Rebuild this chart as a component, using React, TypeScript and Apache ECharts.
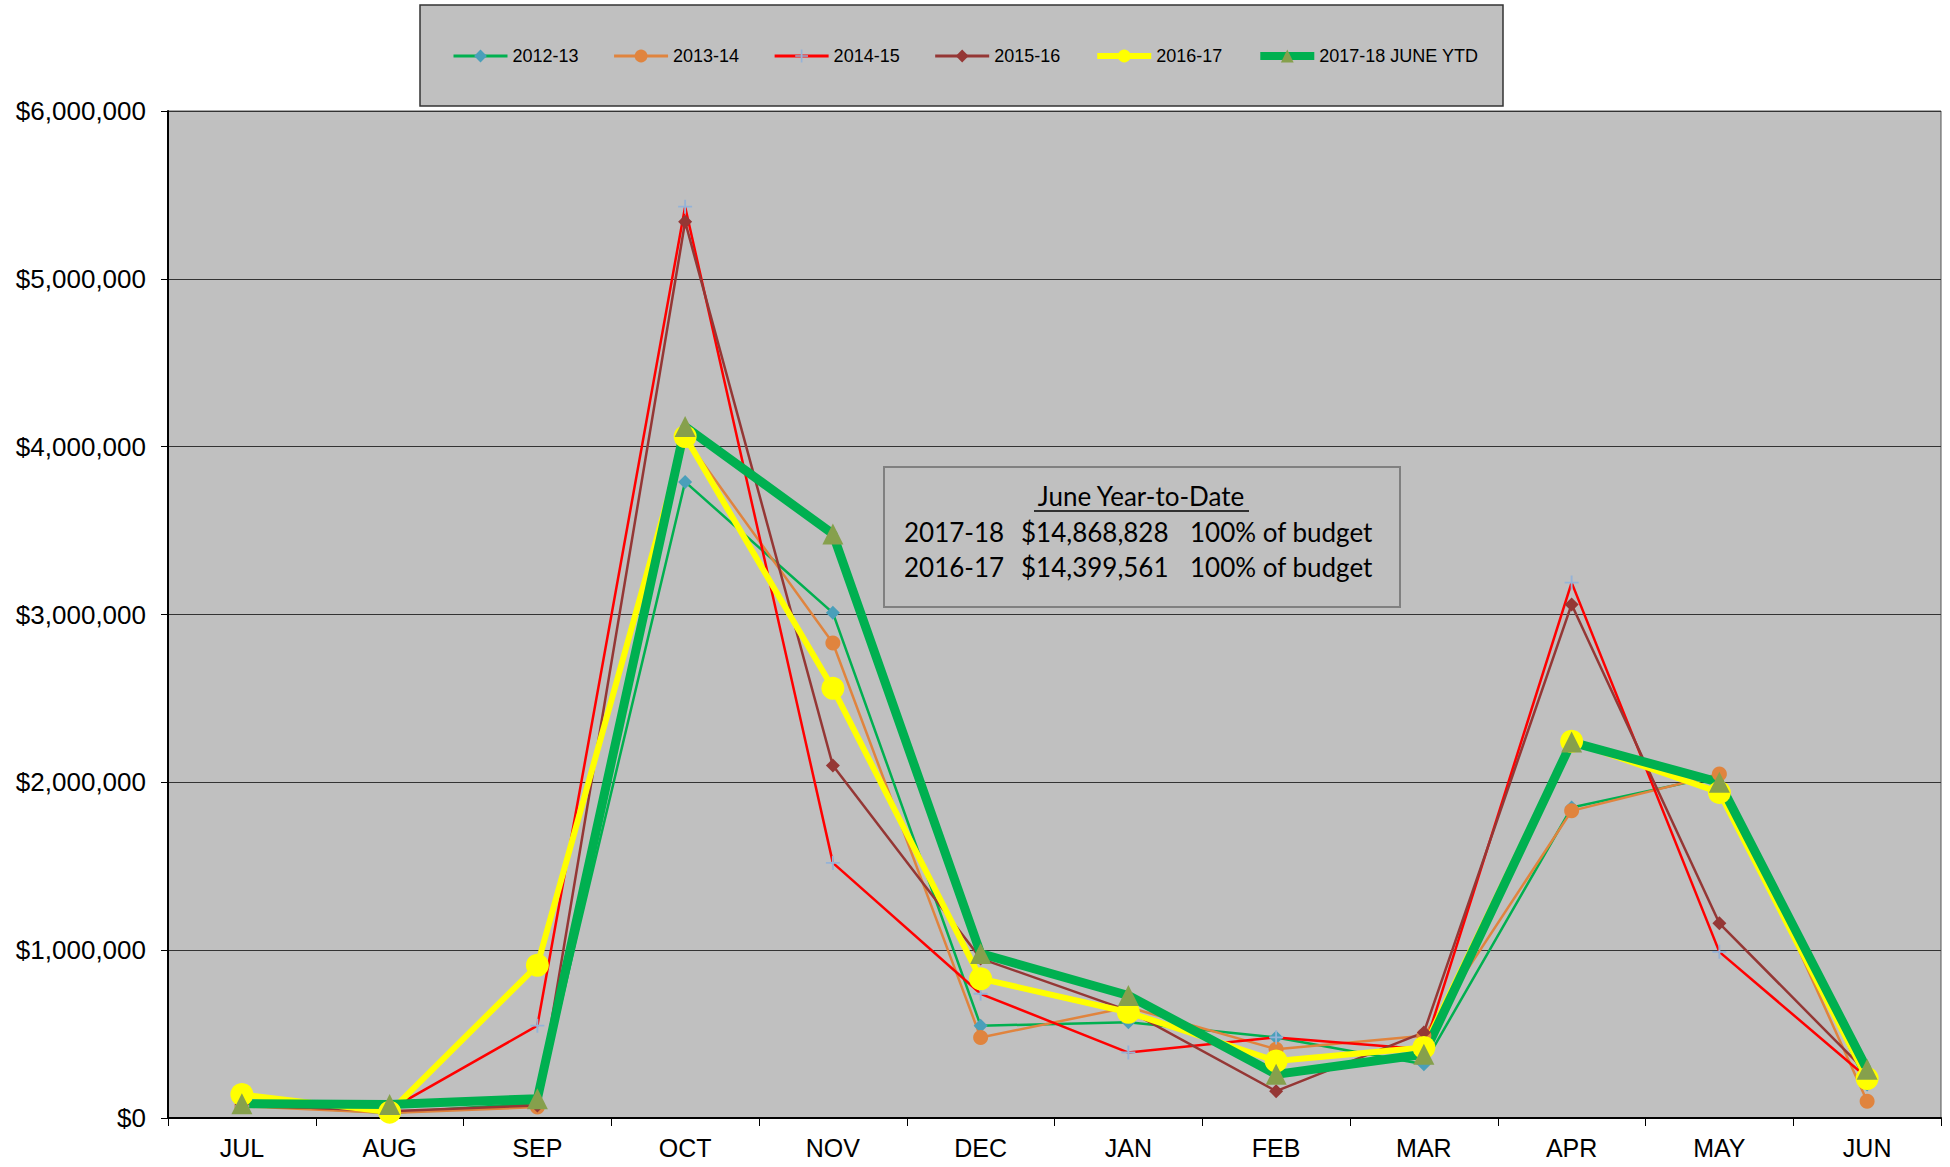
import React, { useEffect, useRef } from "react";
import * as echarts from "echarts";

const months = ["JUL", "AUG", "SEP", "OCT", "NOV", "DEC", "JAN", "FEB", "MAR", "APR", "MAY", "JUN"];

const fy2012_13 = [80000, 30000, 90000, 3790000, 3010000, 550000, 570000, 480000, 320000, 1850000, 2040000, 200000];
const fy2013_14 = [70000, 30000, 65000, 4050000, 2830000, 480000, 660000, 410000, 490000, 1830000, 2050000, 100000];
const fy2014_15 = [70000, 50000, 550000, 5430000, 1520000, 740000, 390000, 480000, 410000, 3190000, 990000, 240000];
const fy2015_16 = [80000, 40000, 75000, 5340000, 2100000, 950000, 640000, 160000, 510000, 3060000, 1160000, 270000];
const fy2016_17 = [140000, 35000, 910000, 4060000, 2560000, 830000, 630000, 340000, 420000, 2245000, 1940000, 235000];
const fy2017_18 = [85000, 80000, 115000, 4120000, 3480000, 980000, 730000, 260000, 380000, 2240000, 2000000, 290000];

const seriesNames = ["2012-13", "2013-14", "2014-15", "2015-16", "2016-17", "2017-18 JUNE YTD"];

const boxTitle = "June Year-to-Date";
const boxRows = [
  ["2017-18", "$14,868,828", "100% of budget"],
  ["2016-17", "$14,399,561", "100% of budget"],
];

const PLUS = "path://M5.2,0 H6.8 V5.2 H12 V6.8 H6.8 V12 H5.2 V6.8 H0 V5.2 H5.2 Z";

function fmtMoney(v: number) {
  return "$" + v.toLocaleString("en-US");
}

export default function App() {
  const ref = useRef<HTMLDivElement>(null);
  useEffect(() => {
    if (!ref.current) return;
    const chart = echarts.init(ref.current, undefined, { renderer: "svg" });
    const font = "'Liberation Sans', Arial, sans-serif";
    const styles = [
      { line: "#00b050", width: 2.5, symbol: "diamond", size: 14, sym: "#4a9fba" },
      { line: "#e0843e", width: 2.5, symbol: "circle", size: 15, sym: "#e0843e" },
      { line: "#ff0000", width: 2.5, symbol: PLUS, size: 14, sym: "#95b3d7" },
      { line: "#953735", width: 2.5, symbol: "diamond", size: 14, sym: "#953735" },
      { line: "#ffff00", width: 6, symbol: "circle", size: 23, sym: "#ffff00" },
      { line: "#00b050", width: 9, symbol: "triangle", size: 21, sym: "#86a04c" },
    ];
    const allData = [fy2012_13, fy2013_14, fy2014_15, fy2015_16, fy2016_17, fy2017_18];
    const legendWidths = [3, 3, 3, 3, 6, 8];
    const option: any = {
      animation: false,
      backgroundColor: "#ffffff",
      textStyle: { fontFamily: font },
      grid: {
        left: 168,
        right: 9,
        top: 111,
        bottom: 49,
        show: true,
        backgroundColor: "#c0c0c0",
        borderColor: "#555555",
        borderWidth: 1,
      },
      legend: {
        left: 447,
        top: 42,
        itemWidth: 54,
        itemHeight: 16,
        itemGap: 34,
        textStyle: { fontSize: 18, color: "#000", fontFamily: font },
        data: seriesNames.map((n, i) => ({
          name: n,
          lineStyle: { width: legendWidths[i], color: styles[i].line },
        })),
        z: 10,
      },
      xAxis: {
        type: "category",
        data: months,
        boundaryGap: true,
        axisLine: { lineStyle: { color: "#000", width: 2 } },
        axisTick: { show: true, length: 8, lineStyle: { color: "#000" }, alignWithLabel: false },
        axisLabel: { fontSize: 25, color: "#000", margin: 17, fontFamily: font },
      },
      yAxis: {
        type: "value",
        min: 0,
        max: 6000000,
        interval: 1000000,
        axisLine: { show: true, lineStyle: { color: "#000", width: 2 } },
        axisTick: { show: true, length: 7, lineStyle: { color: "#000" } },
        axisLabel: {
          fontSize: 26,
          color: "#000",
          margin: 22,
          fontFamily: font,
          formatter: (v: number) => fmtMoney(v),
        },
        splitLine: { show: true, lineStyle: { color: "#333333", width: 1 } },
      },
      series: seriesNames.map((name, i) => ({
        name,
        type: "line",
        data: allData[i],
        symbol: styles[i].symbol,
        symbolSize: styles[i].size,
        showAllSymbol: true,
        lineStyle: { color: styles[i].line, width: styles[i].width },
        itemStyle: { color: styles[i].sym, borderWidth: 0 },
        emphasis: { disabled: true },
        z: 3,
      })),
      graphic: [
        {
          type: "rect",
          z: 0,
          silent: true,
          shape: { x: 420, y: 5, width: 1083, height: 101 },
          style: { fill: "#c0c0c0", stroke: "#333333", lineWidth: 1.5 },
        },
        {
          type: "group",
          z: 100,
          children: [
            {
              type: "rect",
              shape: { x: 884, y: 467, width: 516, height: 140 },
              style: { fill: "#c0c0c0", stroke: "#808080", lineWidth: 2 },
            },
            {
              type: "text",
              x: 1141,
              y: 496,
              style: {
                text: boxTitle,
                fill: "#000",
                font: "26px Lato, 'Open Sans', sans-serif",
                textAlign: "center",
                textVerticalAlign: "middle",
              },
            },
            {
              type: "line",
              shape: { x1: 1034, y1: 511, x2: 1249, y2: 511 },
              style: { stroke: "#000", lineWidth: 1.5 },
            },
            ...boxRows.flatMap((row, i) =>
              row.map((t, j) => ({
                type: "text",
                x: [904, 1021, 1190][j],
                y: 532 + i * 34.5,
                style: {
                  text: t,
                  fill: "#000",
                  font: "26px Lato, 'Open Sans', sans-serif",
                  textAlign: "left",
                  textVerticalAlign: "middle",
                },
              }))
            ),
          ],
        },
      ],
    };
    chart.setOption(option);
    return () => chart.dispose();
  }, []);
  return (
    <div
      ref={ref}
      style={{ position: "absolute", left: 0, top: 0, width: 1950, height: 1167 }}
    />
  );
}
